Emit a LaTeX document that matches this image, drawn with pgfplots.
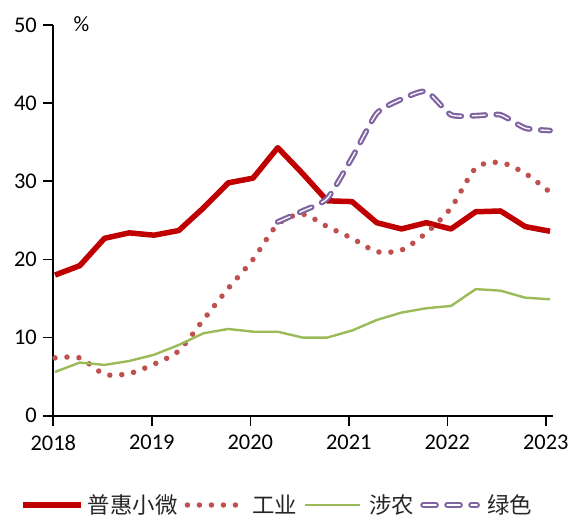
\documentclass[border=0pt]{standalone}
\usepackage{pgfplots}
\pgfplotsset{compat=1.18}
\usepackage{fontspec}
\setmainfont{Carlito}
\newfontfamily\cjk{Noto Sans CJK SC}
\definecolor{cRed}{HTML}{C00000}
\definecolor{cPink}{HTML}{C0504D}
\definecolor{cGreen}{HTML}{9BBB59}
\definecolor{cPurple}{HTML}{8064A2}
\pgfplotsset{
  legA/.style={legend image code/.code={\path[draw=none,fill=none,double=none] (0bp,0bp) -- (65bp,0bp); \draw[##1] (0bp,0bp) -- (58bp,0bp);}},
  legB/.style={legend image code/.code={\path[draw=none,fill=none,double=none] (0bp,0bp) -- (75bp,0bp); \draw[##1, sharp plot] (10bp,0bp) -- (60bp,0bp);}},
  legC/.style={legend image code/.code={\path[draw=none,fill=none,double=none] (0bp,0bp) -- (72bp,0bp); \draw[##1] (8bp,0bp) -- (63bp,0bp);}},
  legD/.style={legend image code/.code={\path[draw=none,fill=none,double=none] (0bp,0bp) -- (73bp,0bp); \draw[##1, sharp plot] (9bp,0bp) -- (63bp,0bp);}},
}
\begin{document}
\begin{tikzpicture}
\begin{axis}[
  scale only axis,
  width=499.7bp, height=390.7bp,
  xmin=-0.069, xmax=20.12,
  ymin=0, ymax=50,
  axis x line=bottom, axis y line=left,
  axis line style={-, line width=1.6bp, black},
  tick style={line width=1.6bp, black},
  tick align=outside,
  major tick length=10bp,
  xtick={-0.069,3.911,7.891,11.871,15.851,19.831},
  xticklabels={2018,2019,2020,2021,2022,2023},
  ytick={0,10,20,30,40,50},
  yticklabels={0,10,20,30,40,50},
  ticklabel style={font=\fontsize{22.5}{26}\selectfont, text=black},
  xticklabel style={yshift=-6bp},
  yticklabel style={xshift=-3bp},
  clip=false,
  legend columns=4,
  legend style={draw=none, fill=none, inner sep=0pt, outer sep=0pt,
    nodes={inner sep=0pt},
    column sep=0pt,
    at={(-0.0666,-0.2286)}, anchor=west,
    font=\cjk\fontsize{22.5}{26}\selectfont, text=black!85},
  legend cell align=left,
]
\addplot[cRed, line width=5.5bp, line join=round, legA]
  coordinates {(0,18.0)(1,19.2)(2,22.7)(3,23.4)(4,23.1)(5,23.7)(6,26.6)(7,29.8)(8,30.4)(9,34.3)(10,31.0)(11,27.5)(12,27.4)(13,24.7)(14,23.9)(15,24.7)(16,23.9)(17,26.1)(18,26.2)(19,24.2)(20,23.6)};
\addlegendentry{普惠小微}
\addplot[cPink, line width=5.5bp, line cap=round, dash pattern=on 0bp off 12bp, smooth, tension=0.45, legB]
  coordinates {(0,7.4)(1,7.4)(2,5.3)(3,5.4)(4,6.6)(5,8.3)(6,12.3)(7,16.3)(8,20.0)(9,24.5)(10,25.8)(11,24.2)(12,22.7)(13,21.0)(14,21.2)(15,23.4)(16,26.6)(17,31.7)(18,32.4)(19,31.0)(20,28.6)};
\addlegendentry{工业}
\addplot[cGreen, line width=2.4bp, line join=round, legC]
  coordinates {(0,5.6)(1,6.8)(2,6.5)(3,7.0)(4,7.8)(5,9.05)(6,10.55)(7,11.1)(8,10.75)(9,10.75)(10,10.0)(11,10.0)(12,10.9)(13,12.25)(14,13.2)(15,13.75)(16,14.05)(17,16.2)(18,16.0)(19,15.1)(20,14.9)};
\addlegendentry{涉农}
\addplot[cPurple, line width=2.2bp, double=white, double distance=1.3bp, line cap=round,
  dash pattern=on 13bp off 11bp, smooth, tension=0.35, legD]
  coordinates {(9,24.8)(10,26.2)(11,27.8)(12,33.0)(13,38.7)(14,40.5)(15,41.5)(16,38.5)(17,38.4)(18,38.5)(19,36.8)(20,36.5)};
\addlegendentry{绿色}
\node[font=\fontsize{22}{26}\selectfont, anchor=center] at (axis cs:1.07,50.05) {\%};
\end{axis}
\pgfresetboundingbox
\path[use as bounding box] (-53.3bp,-99.3bp) rectangle (520.7bp,415.7bp);
\end{tikzpicture}
\end{document}
